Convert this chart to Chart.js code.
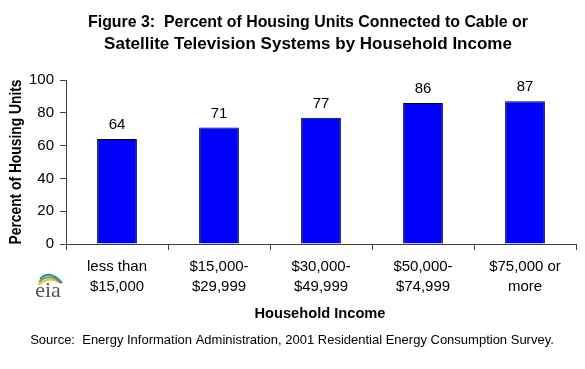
<!DOCTYPE html>
<html>
<head>
<meta charset="utf-8">
<script src="https://cdn.jsdelivr.net/npm/chart.js@4"></script>
<style>
  body { margin: 0; background: #fff; }
</style>
</head>
<body>
<canvas id="myChart" width="585" height="369"></canvas>
<script>
// chart data
const categories = [
  ['less than', '$15,000'],
  ['$15,000-', '$29,999'],
  ['$30,000-', '$49,999'],
  ['$50,000-', '$74,999'],
  ['$75,000 or', 'more']
];
const percents = [64, 71, 77, 86, 87];
const yTicks = [0, 20, 40, 60, 80, 100];

const titleLines = [
  'Figure 3:  Percent of Housing Units Connected to Cable or',
  'Satellite Television Systems by Household Income'
];
const xTitle = 'Household Income';
const yTitle = 'Percent of Housing Units';
const sourceNote = 'Source:  Energy Information Administration, 2001 Residential Energy Consumption Survey.';

const FONT = 'Arial, "Liberation Sans", sans-serif';

// draws text squeezed to a max width (the original uses a narrow bold face)
function narrowText(ctx, text, x, y, maxW) {
  let w = ctx.measureText(text).width;
  let sx = w > maxW ? maxW / w : 1;
  ctx.save();
  ctx.translate(x, y);
  ctx.scale(sx, 1);
  ctx.fillText(text, 0, 0);
  ctx.restore();
}

const extras = {
  id: 'extras',
  afterDraw(chart) {
    const ctx = chart.ctx;
    ctx.save();
    ctx.fillStyle = '#000';
    ctx.textAlign = 'center';
    ctx.textBaseline = 'middle';

    // title
    ctx.font = 'bold 17px ' + FONT;
    narrowText(ctx, titleLines[0], 308, 22, 440);
    narrowText(ctx, titleLines[1], 308, 44, 414);

    // value labels
    ctx.font = '15px ' + FONT;
    ctx.textBaseline = 'alphabetic';
    chart.getDatasetMeta(0).data.forEach((bar, i) => {
      ctx.fillText(percents[i], bar.x, bar.y - 10);
    });

    // axis titles
    ctx.textBaseline = 'middle';
    ctx.font = 'bold 15px ' + FONT;
    narrowText(ctx, xTitle, 320, 314, 131);
    ctx.font = 'bold 16px ' + FONT;
    ctx.save();
    ctx.translate(17, 162);
    ctx.rotate(-Math.PI / 2);
    narrowText(ctx, yTitle, 0, 0, 165);
    ctx.restore();

    // source
    ctx.font = '13px ' + FONT;
    narrowText(ctx, sourceNote, 292, 340, 545);

    // eia logo
    ctx.lineWidth = 2;
    const arcs = [['#f0c419', 279], ['#5fb04a', 276], ['#2e86cf', 273]];
    arcs.forEach(([c, y0], k) => {
      ctx.strokeStyle = c;
      ctx.beginPath();
      ctx.moveTo(38 + k, y0 + 6);
      ctx.quadraticCurveTo(50, y0 - 4, 60 + k, y0 + 4 + k * 3);
      ctx.stroke();
    });
    ctx.fillStyle = '#555';
    ctx.font = '22px "Liberation Serif", serif';
    ctx.textBaseline = 'alphabetic';
    ctx.fillText('eia', 48, 297);

    ctx.restore();
  }
};

const myChart = document.getElementById('myChart');

let barChart = new Chart(myChart, {
  type: 'bar',
  data: {
    labels: categories,
    datasets: [{
      data: percents,
      backgroundColor: '#0000ff',
      borderColor: '#000',
      borderWidth: 1,
      barPercentage: 0.39,
      categoryPercentage: 1.0
    }]
  },
  options: {
    responsive: false,
    animation: false,
    layout: { padding: { top: 80, right: 9, left: 0, bottom: 0 } },
    plugins: {
      legend: { display: false },
      tooltip: { enabled: false },
      title: { display: false }
    },
    scales: {
      x: {
        grid: { drawOnChartArea: false, offset: true, tickLength: 6, color: '#404040' },
        border: { color: '#404040' },
        ticks: { color: '#000', font: { family: FONT, size: 15, lineHeight: 1.33 }, padding: 7, maxRotation: 0 },
        afterFit: s => { s.height = 125; }
      },
      y: {
        min: 0,
        max: 100,
        grid: { drawOnChartArea: false, tickLength: 6, color: '#404040' },
        border: { color: '#404040' },
        ticks: { color: '#000', font: { family: FONT, size: 15 }, padding: 6 },
        afterBuildTicks: s => { s.ticks = yTicks.map(v => ({ value: v })); },
        afterFit: s => { s.width = 66; }
      }
    }
  },
  plugins: [extras]
});
</script>
</body>
</html>
